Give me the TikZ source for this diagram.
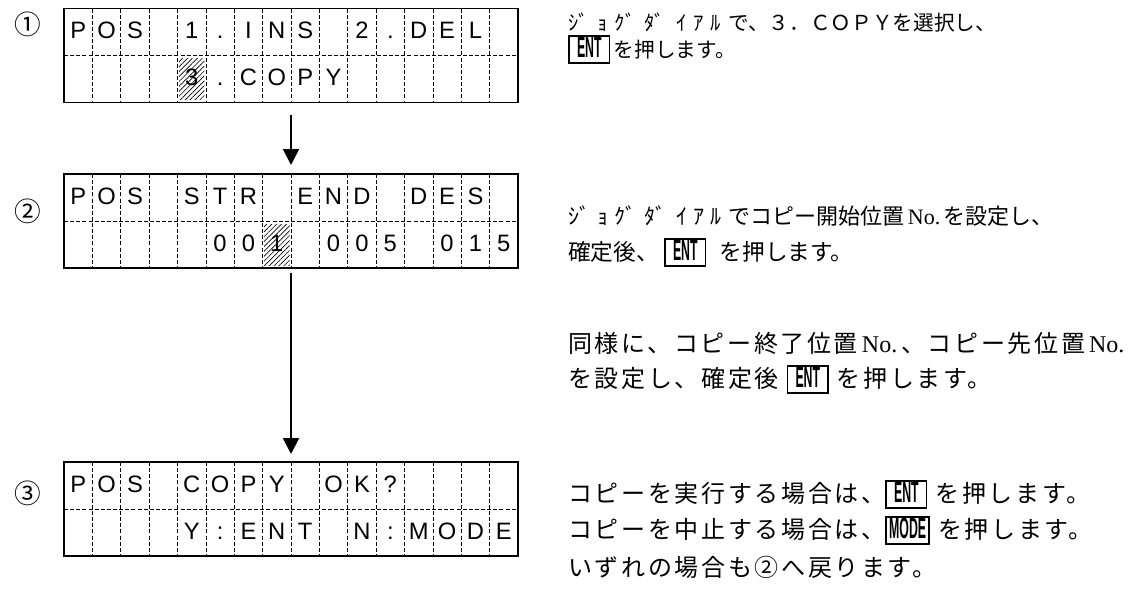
\documentclass[tikz,border=0pt]{standalone}
\usepackage{fontspec}
\setmainfont{Noto Sans CJK JP}
\newfontfamily\lcdfont{Liberation Sans}
\newfontfamily\keyfont[FakeStretch=0.42]{Liberation Sans Bold}
\newfontfamily\serifno{Liberation Serif}
\usepackage{tikz}
\usetikzlibrary{positioning,calc,arrows.meta,patterns.meta}

\newcommand\keytop[2][29pt]{{\setlength\fboxrule{1.3pt}\setlength\fboxsep{0pt}%
  \fbox{\makebox[#1]{\rule[-4pt]{0pt}{19pt}\keyfont\fontsize{22pt}{22pt}\selectfont #2}}}}
\newcommand\posno{{\serifno No.}}
\newcommand\hk[2][13pt]{\makebox[#1][l]{#2}}
\newcommand\dial{\hk[22pt]{ｼﾞ}\hk{ｮ}\hk[22pt]{ｸﾞ}\hk[24pt]{ﾀﾞ}\hk{ｲ}\hk{ｱ}\hk{ﾙ}}
\newcommand\lcdgrid[1]{%
  \draw[cell] (#1.west) -- (#1.east);
  \foreach \k in {1,...,15}
    \draw[cell] ($(#1.north west)!\k/16!(#1.north east)$) -- ($(#1.south west)!\k/16!(#1.south east)$);}
\newcommand\lcdline[3]{% screen, row, characters
  \foreach \ch [count=\i from 0] in {#3}
    \node[glyph] at ($(#1.north west)+(\i*28.375+14.19,47*#2-17)$) {\ch};}
\newcommand\lcdhatch[3]{% screen, row, column
  \path[hatch] ($(#1.north west)+(#3*28.375+1.5,47*#2-44)$) rectangle ++(25.4,41);}

\begin{document}
\begin{tikzpicture}[x=0.75pt,y=-0.75pt,
    lcd/.style={draw,line width=1.2pt,minimum width=340.5pt,minimum height=70.5pt,inner sep=0pt,outer sep=0pt},
    cell/.style={line width=0.5pt,dash pattern=on 3pt off 1.6pt},
    glyph/.style={font=\lcdfont\fontsize{17.8pt}{20pt}\selectfont,inner sep=0pt,anchor=base},
    hatch/.style={pattern={Lines[angle=45,distance=2.6pt,line width=0.5pt]}},
    flow/.style={-{Triangle[width=12pt,length=12pt]},line width=1.5pt},
    stepno/.style={font=\fontsize{20pt}{22pt}\selectfont,inner sep=0pt},
    note/.style={anchor=base west,inner sep=0pt,font=\fontsize{17pt}{22pt}\selectfont},
    wide note/.style={note,font=\fontsize{18pt}{22pt}\selectfont\addfontfeature{LetterSpace=11}},
    small note/.style={note,font=\fontsize{15.5pt}{20pt}\selectfont}]
  \useasboundingbox (0,0) rectangle (1140,589);

  % screens
  \node[lcd] (lcd1) at (291,55.5) {};
  \node[lcd] (lcd2) at (291,221) {};
  \node[lcd] (lcd3) at (291,509) {};
  \node[stepno] (no1) at (28,24) {①};
  \node[stepno] (no2) at (28,211) {②};
  \node[stepno] (no3) at (28,493) {③};

  \lcdgrid{lcd1}
  \lcdgrid{lcd2}
  \lcdgrid{lcd3}
  \lcdhatch{lcd1}{2}{4}
  \lcdhatch{lcd2}{2}{7}

  \lcdline{lcd1}{1}{P,O,S, ,1,.,I,N,S, ,2,.,D,E,L, }
  \lcdline{lcd1}{2}{ , , , ,3,.,C,O,P,Y}
  \lcdline{lcd2}{1}{P,O,S, ,S,T,R, ,E,N,D, ,D,E,S, }
  \lcdline{lcd2}{2}{ , , , , ,0,0,1, ,0,0,5, ,0,1,5}
  \lcdline{lcd3}{1}{P,O,S, ,C,O,P,Y, ,O,K,?}
  \lcdline{lcd3}{2}{ , , , ,Y,:,E,N,T, ,N,:,M,O,D,E}

  \draw[flow,shorten <=9pt,shorten >=6.75pt] (lcd1) -- (lcd2);
  \draw[flow,shorten <=4pt,shorten >=6pt] (lcd2) -- (lcd3);

  % notes
  \node[small note] (txt1a) at (568,31) {\dial で、３．ＣＯＰＹを選択し、};
  \node[small note] (txt1b) at (568,57) {\keytop{ENT}\,を押します。};
  \node[note,font=\fontsize{16.5pt}{22pt}\selectfont] (txt2a) at (568,224) {\dial でコピー開始位置\,\posno\,を設定し、};
  \node[note] (txt2b) at (568,260) {確定後、\hspace{4pt}\keytop{ENT}\hspace{10pt}を押します。};
  \node[wide note] (txt3a) at (568,352) {同様に、コピー終了位置\,\posno\,、コピー先位置\,\posno};
  \node[wide note] (txt3b) at (568,387) {を設定し、確定後\ \keytop{ENT}\ を押します。};
  \node[wide note] (txt4a) at (568,502) {コピーを実行する場合は、\keytop{ENT}\ を押します。};
  \node[wide note] (txt4b) at (568,538) {コピーを中止する場合は、\keytop[31pt]{MODE}\ を押します。};
  \node[wide note] (txt4c) at (568,576) {いずれの場合も②へ戻ります。};
\end{tikzpicture}
\end{document}
